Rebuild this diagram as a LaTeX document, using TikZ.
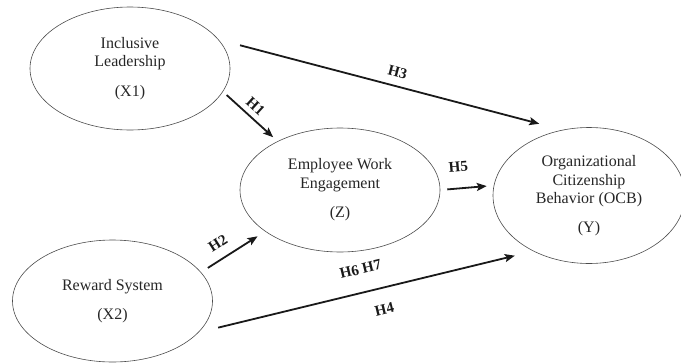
\documentclass[tikz,border=0pt]{standalone}
\usepackage{fontspec}
\setmainfont{Liberation Serif}
\usetikzlibrary{shapes.geometric, arrows.meta}

\tikzset{
	construct/.style = {ellipse, draw = black!70, line width = 0.6pt, inner sep = 0pt,
		align = center, text = black!85, font = \fontsize{16}{18.5}\selectfont},
	hyp/.style = {-{Stealth[length = 10pt, width = 8pt, inset = 2pt]}, line width = 1.8pt, black!90},
	hlabel/.style = {sloped, text = black!90, font = \bfseries\fontsize{15}{15}\selectfont}
}

\begin{document}
\begin{tikzpicture}[x = 1pt, y = 1pt]
	\useasboundingbox (0,0) rectangle (681,-362);
	% constructs
	\node[construct, minimum width = 200pt, minimum height = 123pt](X1) at (130,-68.5){Inclusive\\Leadership\\[11pt](X1)};
	\node[construct, minimum width = 200pt, minimum height = 124pt](Z) at (340,-190){Employee Work\\Engagement\\[11pt](Z)};
	\node[construct, minimum width = 192pt, minimum height = 136pt](Y) at (589,-195.5){Organizational\\Citizenship\\Behavior (OCB)\\[10pt](Y)};
	\node[construct, minimum width = 200pt, minimum height = 122pt](X2) at (112.5,-301){Reward System\\[11pt](X2)};
	% hypotheses
	\draw[hyp, shorten < = 22pt, shorten > = 24pt] (X1.18) -- node[hlabel, pos = 0.51, above = 5pt]{H3} (Y.112);
	\draw[hyp, shorten < = 5pt, shorten > = 6pt] (X1.-14) -- node[hlabel, pos = 0.46, above = 2pt]{H1} (Z.142);
	\draw[hyp, shorten < = 7pt, shorten > = 7pt] (Z.east) -- node[hlabel, pos = 0.37, above = 12pt]{H5} (Y.174);
	\draw[hyp, shorten < = 8pt, shorten > = 9pt] (X2.18) -- node[hlabel, pos = 0.39, above = 6pt]{H2} (Z.209);
	\draw[hyp, shorten < = 20pt, shorten > = 19pt] (X2.-20) --
		node[hlabel, pos = 0.50, above = 14pt]{H6 H7}
		node[hlabel, pos = 0.54, below = 12pt]{H4} (Y.225);
\end{tikzpicture}
\end{document}
